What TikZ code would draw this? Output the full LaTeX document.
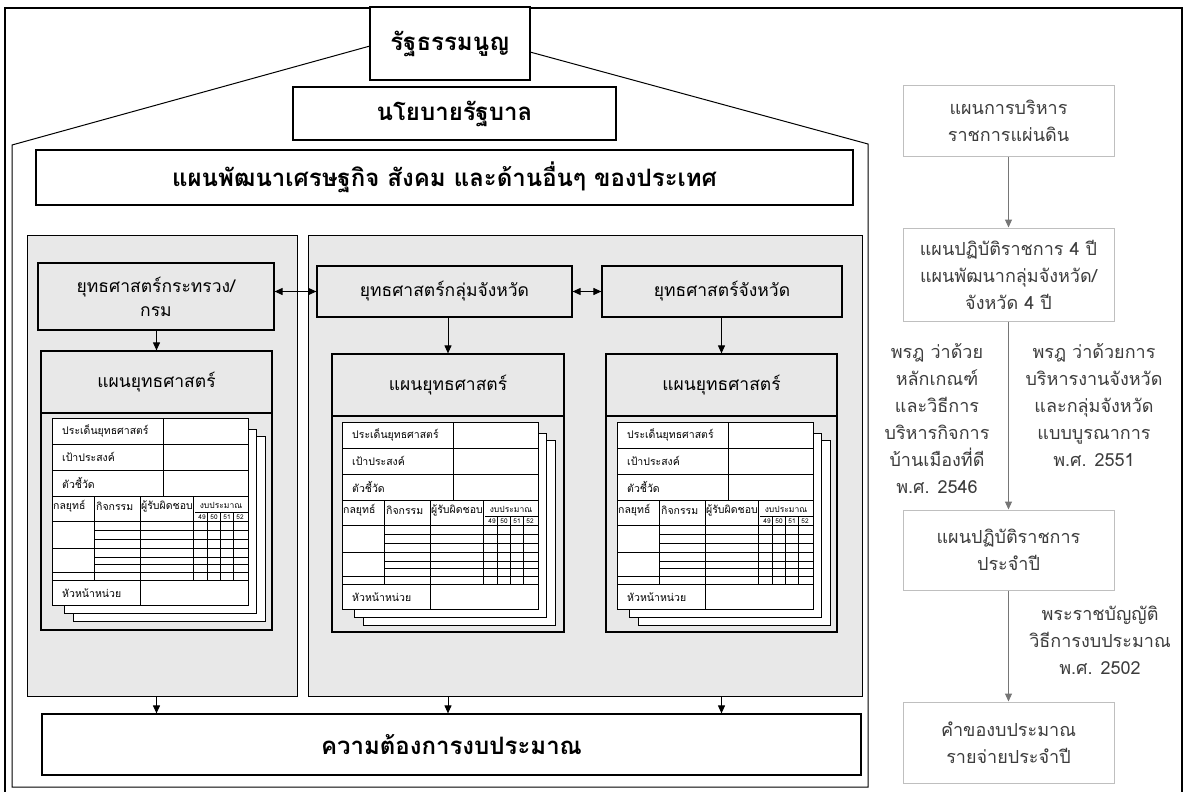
\documentclass[tikz,border=0pt]{standalone}
\usepackage{fontspec}
\setmainfont[Script=Thai]{Loma}
\usepackage{tikz}
\usetikzlibrary{arrows.meta}

\definecolor{panelgray}{RGB}{232,232,232}
\definecolor{linegray}{RGB}{191,191,191}
\definecolor{arrowgray}{RGB}{118,118,118}
\definecolor{flowtext}{RGB}{60,60,60}

% one stack of form sheets, top left corner at (#1,#2)
\newcommand{\plansheet}[3]{%
\begin{scope}[shift={(#1,#2)}]
	\draw[sheet] (21,18) rectangle (213,203);
	\draw[sheet] (12,11) rectangle (204,195);
	\draw[sheet] (0,0) rectangle (196,187);
	\draw[cell] (0,26) -- (196,26) (0,52) -- (196,52) (0,78) -- (196,78) (111,0) -- (111,78);
	\draw[cell] (42,78) -- (42,162) (88,78) -- (88,187) (141,78) -- (141,162);
	\draw[cell] (143,94) -- (196,94) (0,103) -- (196,103) (0,162) -- (196,162);
	\draw[cell] (155,94) -- (155,162) (168,94) -- (168,162) (181,94) -- (181,162);
	\draw[cell] (42,112) -- (196,112) (42,121) -- (196,121) (42,130) -- (196,130)
		(42,139) -- (196,139) (42,146) -- (196,146) (42,154) -- (196,154);
	\draw[cell] (0,130) -- (42,130) (0,154) -- (42,154);
	\node[formtext,anchor=west] (#3issue) at (10,13) {ประเด็นยุทธศาสตร์};
	\node[formtext,anchor=west] (#3goal) at (10,39) {เป้าประสงค์};
	\node[formtext,anchor=west] (#3kpi) at (10,65) {ตัวชี้วัด};
	\node[formtext,anchor=west] (#3tactic) at (1,88) {กลยุทธ์};
	\node[formtext,anchor=west] (#3task) at (44,88) {กิจกรรม};
	\node[formtext,anchor=west] (#3owner) at (89,88) {ผู้รับผิดชอบ};
	\node[moneytext] (#3money) at (169,87) {งบประมาณ};
	\node[yeartext] (#3y49) at (150,99) {49};
	\node[yeartext] (#3y50) at (162,99) {50};
	\node[yeartext] (#3y51) at (175,99) {51};
	\node[yeartext] (#3y52) at (188,99) {52};
	\node[formtext,anchor=west] (#3head) at (10,175) {หัวหน้าหน่วย};
\end{scope}}

\begin{document}
\begin{tikzpicture}[x=1pt,y=-1pt,
	box/.style={draw,line width=1.2pt,inner sep=0pt,align=center},
	headbox/.style={box,fill=white,font=\fontsize{24}{28}\selectfont\bfseries},
	stratbox/.style={box,fill=panelgray,font=\fontsize{17.5}{24}\selectfont},
	panel/.style={draw,line width=1pt,fill=panelgray,inner sep=0pt},
	flowbox/.style={draw=linegray,line width=1pt,inner sep=0pt,align=center,text=flowtext,font=\fontsize{18}{27}\selectfont},
	flownote/.style={inner sep=0pt,align=center,text=flowtext,font=\fontsize{18}{27}\selectfont},
	arr/.style={line width=1pt,-{Triangle[length=8pt,width=7pt]}},
	darr/.style={line width=1pt,{Triangle[length=8pt,width=7pt]}-{Triangle[length=8pt,width=7pt]}},
	flowarr/.style={arr,arrowgray},
	sheet/.style={draw,line width=0.8pt,fill=white},
	cell/.style={line width=0.8pt},
	formtext/.style={inner sep=0pt,font=\fontsize{10.5}{12}\selectfont},
	moneytext/.style={inner sep=0pt,font=\fontsize{8.5}{10}\selectfont},
	yeartext/.style={inner sep=0pt,font=\fontsize{6.5}{7}\selectfont}]
	\useasboundingbox (0,0) rectangle (1187,792);
	\draw[line width=2.2pt] (5,8) rectangle (1182,800);
	% the house
	\draw[line width=1pt] (370,46) -- (12,145) -- (12,787) -- (868,787) -- (868,144) -- (530,52);

	\node[headbox,minimum width=160,minimum height=73] (const) at (450,43.5) {รัฐธรรมนูญ};
	\node[headbox,minimum width=323,minimum height=53] (govpolicy) at (454.5,113.5) {นโยบายรัฐบาล};
	\node[headbox,minimum width=817,minimum height=55] (natplan) at (444.5,177.5) {แผนพัฒนาเศรษฐกิจ สังคม และด้านอื่นๆ ของประเทศ};

	% gray panels
	\node[panel,minimum width=270,minimum height=461] (panelL) at (162,465.5) {};
	\node[panel,minimum width=554,minimum height=461] (panelR) at (585,465.5) {};

	\node[stratbox,minimum width=236,minimum height=67] (ministry) at (156,296.5) {ยุทธศาสตร์กระทรวง/\\กรม};
	\node[stratbox,minimum width=255,minimum height=51] (cluster) at (444.5,291.5) {ยุทธศาสตร์กลุ่มจังหวัด};
	\node[stratbox,minimum width=240,minimum height=51] (province) at (722,291.5) {ยุทธศาสตร์จังหวัด};
	\draw[darr] (ministry.east |- cluster.west) -- (cluster.west);
	\draw[darr] (cluster) -- (province);

	% strategic plans
	\node[stratbox,minimum width=231,minimum height=62] (planLhead) at (156.5,382) {แผนยุทธศาสตร์};
	\node[stratbox,minimum width=231,minimum height=217] (planLbody) at (156.5,521.5) {};
	\node[stratbox,minimum width=232,minimum height=62] (planMhead) at (448,385) {แผนยุทธศาสตร์};
	\node[stratbox,minimum width=232,minimum height=216] (planMbody) at (448,524) {};
	\node[stratbox,minimum width=231,minimum height=62] (planRhead) at (721.5,385) {แผนยุทธศาสตร์};
	\node[stratbox,minimum width=231,minimum height=216] (planRbody) at (721.5,524) {};
	\draw[arr] (ministry.south -| planLhead.north) -- (planLhead.north);
	\draw[arr] (cluster.south -| planMhead.north) -- (planMhead.north);
	\draw[arr] (province.south -| planRhead.north) -- (planRhead.north);

	\plansheet{52}{418}{L}
	\plansheet{342}{422}{M}
	\plansheet{617}{422}{R}

	\node[headbox,minimum width=819,minimum height=61] (budget) at (451.5,744.5) {ความต้องการงบประมาณ};
	\draw[arr] (panelL.south -| planLhead.north) -- (budget.north -| planLhead.north);
	\draw[arr] (panelR.south -| planMhead.north) -- (budget.north -| planMhead.north);
	\draw[arr] (panelR.south -| planRhead.north) -- (budget.north -| planRhead.north);

	% right column
	\node[flowbox,minimum width=211,minimum height=70] (admin) at (1008.5,121) {แผนการบริหาร\\ราชการแผ่นดิน};
	\node[flowbox,minimum width=211,minimum height=93] (plan4) at (1008.5,274.5) {แผนปฏิบัติราชการ 4 ปี\\แผนพัฒนากลุ่มจังหวัด/\\จังหวัด 4 ปี};
	\node[flowbox,minimum width=211,minimum height=80] (annual) at (1008.5,550) {แผนปฏิบัติราชการ\\ประจำปี};
	\node[flowbox,minimum width=211,minimum height=81] (request) at (1008.5,742.5) {คำของบประมาณ\\รายจ่ายประจำปี};
	\draw[flowarr] (admin) -- (plan4);
	\draw[flowarr] (plan4) -- (annual);
	\draw[flowarr] (annual) -- (request);
	\node[flownote,anchor=north] (decreeA) at (937,343) {พรฎ ว่าด้วย\\หลักเกณฑ์\\และวิธีการ\\บริหารกิจการ\\บ้านเมืองที่ดี\\พ.ศ. 2546};
	\node[flownote,anchor=north] (decreeB) at (1094,343) {พรฎ ว่าด้วยการ\\บริหารงานจังหวัด\\และกลุ่มจังหวัด\\แบบบูรณาการ\\พ.ศ. 2551};
	\node[flownote,anchor=north] (budgetact) at (1100,606) {พระราชบัญญัติ\\วิธีการงบประมาณ\\พ.ศ. 2502};
\end{tikzpicture}
\end{document}
